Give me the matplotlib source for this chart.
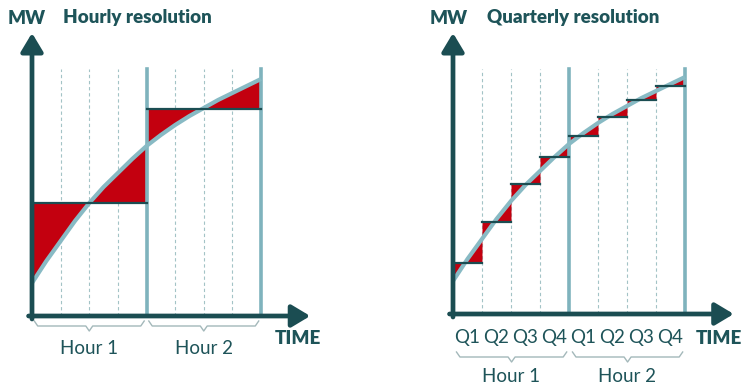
"""
Hourly vs quarterly resolution of a rising load curve.
"""

import matplotlib.pyplot as plt

# load curve (time in hours, MW in picture units)
time_h = [0, 0.125, 0.25, 0.375, 0.5, 0.625, 0.75, 0.875, 1.0,
          1.125, 1.25, 1.375, 1.5, 1.625, 1.75, 1.875, 2.0]
load_mw = [33, 55, 75, 95, 113, 129, 143, 157, 170,
           181, 191, 200, 208, 216, 223, 230, 237]

hour_starts = [0, 1]
hour_labels = ['Hour 1', 'Hour 2']
hourly_mw = [113, 207]

quarter_starts = [0, 0.25, 0.5, 0.75, 1.0, 1.25, 1.5, 1.75]
quarter_labels = ['Q1', 'Q2', 'Q3', 'Q4', 'Q1', 'Q2', 'Q3', 'Q4']
quarterly_mw = [51, 92, 130, 157, 178, 197, 214, 228]

DARK = '#1b4d52'
TEXT = '#1e5459'
CURVE = '#88bac4'
HOURLINE = '#7fb3bd'
GRID = '#a3c3c6'
RED = '#c3000f'
BRACE = '#a3b8ba'

plt.rcParams['font.family'] = ['Lato', 'DejaVu Sans']
BOLD = dict(color=TEXT, fontsize=13.5, fontweight='heavy', va='center')


def brace(ax, a, b, y0, depth):
    mid = (a + b) / 2
    e = 0.03
    ax.plot([a, a + e, mid - e, mid, mid + e, b - e, b],
            [y0 + depth, y0, y0, y0 - depth, y0, y0, y0 + depth],
            color=BRACE, lw=1.0, solid_joinstyle='round', clip_on=False)


def draw_panel(ax, starts, length, levels, top_mw, x_end, y_top):
    ax.axis('off')

    # dashed quarter lines and solid hour boundaries
    for q in quarter_starts:
        if q % 1 != 0:
            ax.plot([q, q], [0, top_mw], color=GRID, lw=0.8,
                    dashes=(3, 2.5), zorder=1)
    for h in hour_starts:
        ax.plot([h + 1, h + 1], [0, top_mw], color=HOURLINE, lw=2.6, zorder=3)

    # red error areas between curve and the block average
    for s, lvl in zip(starts, levels):
        seg = [i for i, t in enumerate(time_h) if s - 1e-9 <= t <= s + length + 1e-9]
        ts = [time_h[i] for i in seg]
        ms = [load_mw[i] for i in seg]
        ax.fill_between(ts, ms, lvl, interpolate=True, color=RED, lw=0, zorder=2)

    ax.plot(time_h, load_mw, color=CURVE, lw=3.0, solid_capstyle='butt', zorder=4)

    for s, lvl in zip(starts, levels):
        ax.plot([s, s + length], [lvl, lvl], color=DARK, lw=1.6, zorder=5)

    # axes arrows
    arrow = dict(arrowstyle='-|>,head_length=0.8,head_width=0.48', color=DARK,
                 lw=3.4, shrinkA=0, shrinkB=0, mutation_scale=14)
    ax.annotate('', xy=(0, y_top), xytext=(0, -3), arrowprops=arrow,
                annotation_clip=False, zorder=6)
    ax.annotate('', xy=(x_end, 0), xytext=(-0.03, 0), arrowprops=arrow,
                annotation_clip=False, zorder=6)


fig = plt.figure(figsize=(7.44, 3.88), dpi=100)

# left panel: hourly resolution
ax1 = fig.add_axes([0, 0, 0.5, 1])
ax1.set_xlim(-32 / 114.5, 340 / 114.5)
ax1.set_ylim(-72, 316)
draw_panel(ax1, hour_starts, 1, hourly_mw, 247, 2.43, 283)
ax1.text(-0.048, 298, 'MW', ha='center', **BOLD)
ax1.text(0.27, 298, 'Hourly resolution', ha='left', **BOLD)
ax1.text(2.12, -23, 'TIME', ha='left', **BOLD)
for h, lab in zip(hour_starts, hour_labels):
    brace(ax1, h + 0.02, h + 0.98, -10, 5)
    ax1.text(h + 0.5, -32, lab, color=TEXT, fontsize=13.5, ha='center', va='center')

# right panel: quarterly resolution
ax2 = fig.add_axes([0.5, 0, 0.5, 1])
ax2.set_xlim(-81 / 116, 291 / 116)
ax2.set_ylim(-74, 314)
draw_panel(ax2, quarter_starts, 0.25, quarterly_mw, 245, 2.42, 281)
ax2.text(-0.039, 296, 'MW', ha='center', **BOLD)
ax2.text(0.293, 296, 'Quarterly resolution', ha='left', **BOLD)
ax2.text(2.495, -24, 'TIME', ha='right', **BOLD)
for q, lab in zip(quarter_starts, quarter_labels):
    ax2.text(q + 0.125, -23, lab, color=TEXT, fontsize=13.5, ha='center', va='center')
for h, lab in zip(hour_starts, hour_labels):
    brace(ax2, h + 0.03, h + 0.98, -43, 5)
    ax2.text(h + 0.5, -63, lab, color=TEXT, fontsize=13.5, ha='center', va='center')

fig.savefig('out.png', dpi=100)
